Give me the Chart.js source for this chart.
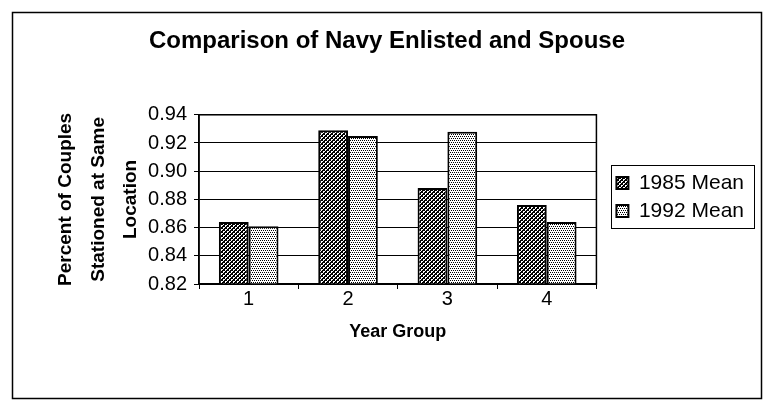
<!DOCTYPE html>
<html>
<head>
<meta charset="utf-8">
<script src="https://cdn.jsdelivr.net/npm/chart.js@4.4.1/dist/chart.umd.min.js"></script>
<style>
  html, body { margin:0; padding:0; background:#fff; }
  #wrap { width:764px; height:408px; }
</style>
</head>
<body>
<div id="wrap"><canvas id="chart1" width="764" height="408"></canvas></div>
<script>
// data
const groups = ['1', '2', '3', '4'];
const mean1985 = [0.864, 0.929, 0.888, 0.876];
const mean1992 = [0.861, 0.925, 0.928, 0.864];
const yTicks = [0.82, 0.84, 0.86, 0.88, 0.90, 0.92, 0.94];

const FONT = "'Liberation Sans', Arial, sans-serif";
const LEGEND_SHIFT = 13;   // gap between plot and legend items
const LEGEND_UP = 7;

// hatch fills like the old b/w print
function hatchPattern(){
  const c = document.createElement('canvas'); c.width = 4; c.height = 4;
  const g = c.getContext('2d');
  g.fillStyle = '#fff'; g.fillRect(0,0,4,4);
  g.fillStyle = '#000';
  for (let x=0;x<4;x++) for (let y=0;y<4;y++){
    const k = (x + y) % 4;
    if (k === 0 || k === 1 || (k === 2 && x % 2 === 0)) g.fillRect(x, y, 1, 1);
  }
  return g.createPattern(c, 'repeat');
}
function dotPattern(){
  const c = document.createElement('canvas'); c.width = 4; c.height = 4;
  const g = c.getContext('2d');
  g.fillStyle = '#fff'; g.fillRect(0,0,4,4);
  g.fillStyle = '#000';
  g.fillRect(0,0,1,1); g.fillRect(2,0,1,1); g.fillRect(1,2,1,1); g.fillRect(3,2,1,1);
  return g.createPattern(c, 'repeat');
}

const frame = {
  id:'frame',
  afterInit(chart){
    const lg = chart.legend;
    const fit = lg.fit.bind(lg), draw = lg.draw.bind(lg);
    lg.fit = function(){ fit(); this.width += LEGEND_SHIFT; };
    lg.draw = function(){
      this.left += LEGEND_SHIFT; this.top -= LEGEND_UP; this.bottom -= LEGEND_UP;
      draw();
      this.left -= LEGEND_SHIFT; this.top += LEGEND_UP; this.bottom += LEGEND_UP;
    };
  },
  beforeDraw(chart){
    const ctx = chart.ctx;
    ctx.save();
    ctx.fillStyle = '#fff'; ctx.fillRect(0,0,chart.width,chart.height);
    ctx.strokeStyle = '#000'; ctx.lineWidth = 1.5;
    ctx.strokeRect(12.5, 12.5, 749, 386);
    ctx.restore();
  },
  afterDraw(chart){
    const ctx = chart.ctx, a = chart.chartArea, lg = chart.legend;
    ctx.save();
    ctx.strokeStyle = '#000'; ctx.lineWidth = 1.5;
    ctx.strokeRect(a.left, a.top, a.right - a.left, a.bottom - a.top);
    // box round the legend
    ctx.lineWidth = 1;
    const items = lg.legendHitBoxes;
    if (items && items.length){
      const last = items[items.length-1];
      const x0 = Math.round(lg.left + LEGEND_SHIFT + 2);
      const y0 = Math.round(items[0].top - LEGEND_UP - 8);
      const y1 = Math.round(last.top + last.height - LEGEND_UP + 6);
      ctx.strokeRect(x0 + 0.5, y0 + 0.5, 143, y1 - y0);
    }
    ctx.restore();
  }
};

new Chart(document.getElementById('chart1').getContext('2d'), {
  type:'bar',
  data:{
    labels: groups,
    datasets:[
      { label:'1985 Mean', data: mean1985, backgroundColor: hatchPattern(), borderColor:'#000', borderWidth:2 },
      { label:'1992 Mean', data: mean1992, backgroundColor: dotPattern(), borderColor:'#000', borderWidth:2 }
    ]
  },
  options:{
    responsive:false,
    animation:false,
    layout:{ padding:{ left:20, right:10, top:20, bottom:20 } },
    datasets:{ bar:{ barPercentage:1.0, categoryPercentage:0.6 } },
    plugins:{
      title:{ display:true, text:'Comparison of Navy Enlisted and Spouse', color:'#000',
        font:{ family:FONT, size:24, weight:'bold', lineHeight:1.2 }, padding:{ top:7, bottom:59 } },
      legend:{ position:'right', align:'center',
        labels:{ color:'#000', font:{ family:FONT, size:21 }, boxWidth:12, boxHeight:12, padding:7 } },
      tooltip:{ enabled:false }
    },
    scales:{
      x:{
        offset:true,
        afterFit(scale){ scale.height = 408 - 20 - 284; },
        grid:{ display:true, drawOnChartArea:false, offset:true, color:'#000', tickLength:5 },
        border:{ display:true, color:'#000', width:1.5 },
        ticks:{ color:'#000', font:{ family:FONT, size:20 }, padding:-2 },
        title:{ display:true, text:'Year Group', color:'#000', font:{ family:FONT, size:18, weight:'bold', lineHeight:1.2 }, padding:{ top:4, bottom:45 } }
      },
      y:{
        min:0.82, max:0.94,
        afterFit(scale){ scale.width = 199 - 20; },
        afterBuildTicks(scale){ scale.ticks = yTicks.map(v => ({ value:v })); },
        grid:{ color:'#000', lineWidth:1, tickLength:5 },
        border:{ display:true, color:'#000', width:1.5 },
        ticks:{ color:'#000', font:{ family:FONT, size:20 }, padding:7, callback:v => v.toFixed(2) },
        title:{ display:true, text:['Percent of Couples', 'Stationed at Same', 'Location'], color:'#000',
          font:{ family:FONT, size:19, weight:'bold', lineHeight:1.7 }, padding:{ top:30 } }
      }
    }
  },
  plugins:[frame]
});
</script>
</body>
</html>
